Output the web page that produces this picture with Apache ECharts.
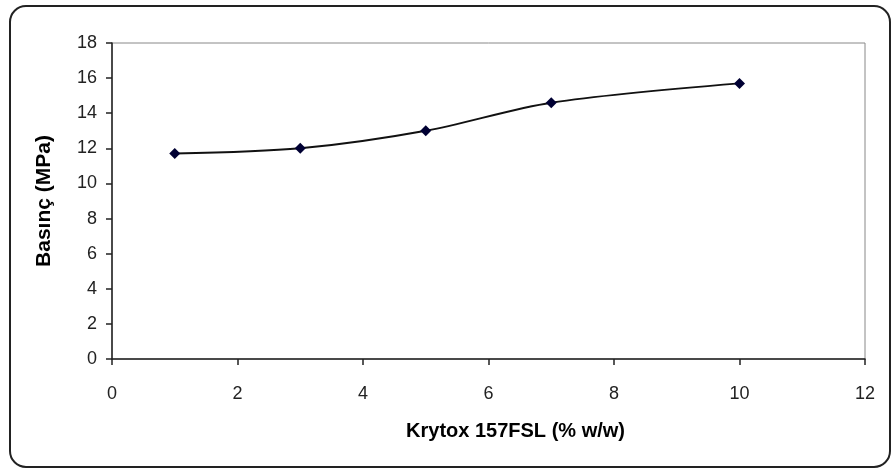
<!DOCTYPE html>
<html>
<head>
<meta charset="utf-8">
<script src="https://cdn.jsdelivr.net/npm/echarts@6/dist/echarts.min.js"></script>
<style>
  html, body { margin: 0; padding: 0; background: #fff; }
  #chart { width: 893px; height: 470px; }
</style>
</head>
<body>
<div id="chart"></div>
<script>
// data
var krytox = [1, 3, 5, 7, 10];
var basinc = [11.7, 12.0, 13.0, 14.6, 15.7];
var xTitle = 'Krytox 157FSL (% w/w)';
var yTitle = 'Basınç (MPa)';

var chart = echarts.init(document.getElementById('chart'));

var points = krytox.map(function (x, i) { return [x, basinc[i]]; });

var option = {
    animation: false,
    backgroundColor: '#fff',
    textStyle: { fontFamily: 'Liberation Sans, Arial, sans-serif' },
    graphic: [
        {
            type: 'rect',
            shape: { x: 10, y: 6, width: 880, height: 461, r: 16 },
            style: { fill: 'none', stroke: '#222', lineWidth: 2 },
            z: -1
        }
    ],
    grid: {
        left: 112,
        top: 43,
        right: 28,
        bottom: 111,
        show: true,
        borderColor: '#888',
        borderWidth: 1
    },
    xAxis: {
        type: 'value',
        min: 0,
        max: 12,
        interval: 2,
        name: xTitle,
        nameLocation: 'middle',
        nameGap: 62,
        nameTextStyle: {
            fontSize: 20,
            fontWeight: 'bold',
            color: '#000',
            padding: [0, 0, 0, 54]
        },
        axisLine: { onZero: false, lineStyle: { color: '#222', width: 1.5 } },
        axisTick: { show: true, length: 6, lineStyle: { color: '#222', width: 1.5 } },
        axisLabel: { fontSize: 18, color: '#222', margin: 26 },
        splitLine: { show: false }
    },
    yAxis: {
        type: 'value',
        min: 0,
        max: 18,
        interval: 2,
        name: yTitle,
        nameLocation: 'middle',
        nameGap: 57,
        nameTextStyle: {
            fontSize: 21,
            fontWeight: 'bold',
            color: '#000'
        },
        axisLine: { show: true, lineStyle: { color: '#222', width: 1.5 } },
        axisTick: { show: true, length: 6, lineStyle: { color: '#222', width: 1.5 } },
        axisLabel: { fontSize: 18, color: '#222', margin: 15 },
        splitLine: { show: false }
    },
    series: [
        {
            type: 'line',
            data: points,
            smooth: 0.3,
            symbol: 'diamond',
            symbolSize: 11,
            itemStyle: { color: '#000033' },
            lineStyle: { color: '#111', width: 2 }
        }
    ]
};

chart.setOption(option);
</script>
</body>
</html>
